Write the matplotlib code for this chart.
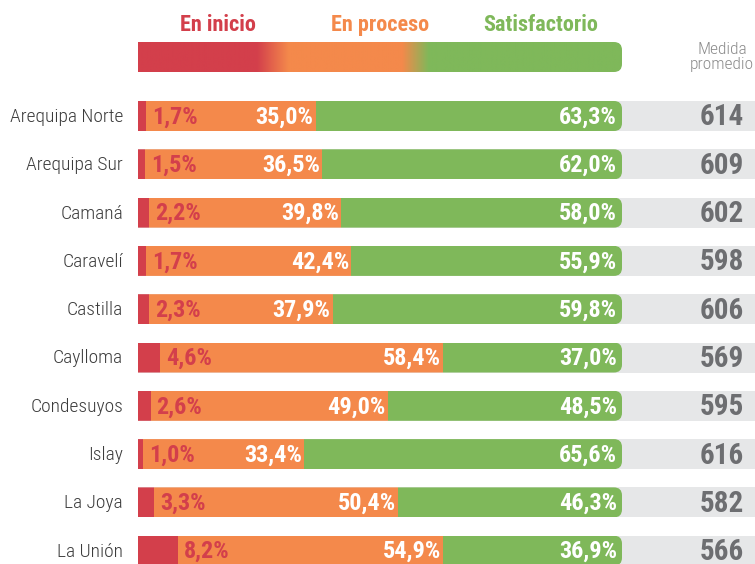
import matplotlib
matplotlib.use("Agg")
import matplotlib.pyplot as plt
import numpy as np
from matplotlib.patches import FancyBboxPatch
from matplotlib.colors import to_rgb

categories = ["Arequipa Norte", "Arequipa Sur", "Camaná", "Caravelí", "Castilla",
              "Caylloma", "Condesuyos", "Islay", "La Joya", "La Unión"]
inicio = [1.7, 1.5, 2.2, 1.7, 2.3, 4.6, 2.6, 1.0, 3.3, 8.2]
proceso = [35.0, 36.5, 39.8, 42.4, 37.9, 58.4, 49.0, 33.4, 50.4, 54.9]
satisf = [63.3, 62.0, 58.0, 55.9, 59.8, 37.0, 48.5, 65.6, 46.3, 36.9]
medida = [614, 609, 602, 598, 606, 569, 595, 616, 582, 566]
legend_labels = ["En inicio", "En proceso", "Satisfactorio"]

RED = "#D33F4B"
ORANGE = "#F4894B"
GREEN = "#7FB85A"
GRAY = "#E6E7E8"
FONT = ["Roboto Condensed", "Liberation Sans Narrow", "DejaVu Sans"]

W, H = 755, 564
fig = plt.figure(figsize=(W / 100, H / 100), dpi=100)

x0, x1 = 138, 622
row0, step = 116, 48.3
top_px = row0 - step / 2
ax = fig.add_axes([x0 / W, 0, (x1 - x0) / W, 1 - top_px / H])
ymax = (H - top_px) / step - 0.5
ax.set_xlim(0, 100)
ax.set_ylim(ymax, -0.5)
ax.axis("off")

bh = 30 / step
y = np.arange(len(categories))
inicio_a = np.array(inicio)
proceso_a = np.array(proceso)
satisf_a = np.array(satisf)

px_per_x = (x1 - x0) / 100
aspect = (1 / step) / (1 / px_per_x)
rad = 8 / px_per_x

def fmt(v):
    return f"{v:.1f}%".replace(".", ",")

ax.barh(y, 130, height=bh, color=GRAY, clip_on=False, zorder=1)
for i in range(len(categories)):
    clip = FancyBboxPatch((-20, i - bh / 2), 120, bh,
                          boxstyle=f"round,pad=0,rounding_size={rad}",
                          mutation_aspect=aspect, transform=ax.transData,
                          facecolor="none", edgecolor="none")
    ax.add_patch(clip)
    b1 = ax.barh(i, inicio_a[i], height=bh, color=RED, zorder=2)
    b2 = ax.barh(i, proceso_a[i], left=inicio_a[i], height=bh, color=ORANGE, zorder=2)
    b3 = ax.barh(i, satisf_a[i], left=inicio_a[i] + proceso_a[i], height=bh, color=GREEN, zorder=2)
    for b in (b1, b2, b3):
        for p in b:
            p.set_clip_path(clip)
    ax.text(inicio_a[i] + 6 / px_per_x, i + 0.02, fmt(inicio_a[i]), color=RED, fontsize=17.5,
            fontweight="bold", family=FONT, ha="left", va="center", zorder=3)
    ax.text(inicio_a[i] + proceso_a[i] - 2 / px_per_x, i + 0.02, fmt(proceso_a[i]), color="white",
            fontsize=17.5, fontweight="bold", family=FONT, ha="right", va="center", zorder=3)
    ax.text(100 - 5 / px_per_x, i + 0.02, fmt(satisf_a[i]), color="white",
            fontsize=17.5, fontweight="bold", family=FONT, ha="right", va="center", zorder=3)
    ax.text(-15 / px_per_x, i + 0.02, categories[i], color="#3C3C3C", fontsize=14,
            family=FONT, fontweight="light", ha="right", va="center", zorder=3, clip_on=False)
    ax.text((744 - x0) / px_per_x, i + 0.03, str(medida[i]), color="#6D6E71", fontsize=21,
            fontweight="bold", family=FONT, ha="right", va="center", zorder=3, clip_on=False)

# legend gradient bar
lax = fig.add_axes([x0 / W, 1 - 72 / H, (x1 - x0) / W, 30 / H])
lax.set_xlim(0, 1)
lax.set_ylim(0, 1)
lax.axis("off")
stops = [(0.0, RED), (0.245, RED), (0.31, ORANGE), (0.545, ORANGE), (0.60, GREEN), (1.0, GREEN)]
xs = np.linspace(0, 1, 600)
cols = np.zeros((1, len(xs), 3))
sp = [s[0] for s in stops]
for c in range(3):
    cols[0, :, c] = np.interp(xs, sp, [to_rgb(s[1])[c] for s in stops])
im = lax.imshow(cols, extent=(0, 1, 0, 1), aspect="auto")
lclip = FancyBboxPatch((-0.2, 0), 1.2, 1,
                       boxstyle=f"round,pad=0,rounding_size={8 / (x1 - x0)}",
                       mutation_aspect=(x1 - x0) / 30, transform=lax.transData,
                       facecolor="none", edgecolor="none")
lax.add_patch(lclip)
im.set_clip_path(lclip)

for lab, cx, col in zip(legend_labels, [218, 380, 541], [RED, ORANGE, GREEN]):
    fig.text(cx / W, 1 - 25 / H, lab, color=col, fontsize=16, fontweight="bold",
             family=FONT, ha="center", va="center")

fig.text(722 / W, 1 - 49 / H, "Medida", color="#8C8C8C", fontsize=12.5, family=FONT,
         fontweight="light", ha="center", va="center")
fig.text(722 / W, 1 - 65 / H, "promedio", color="#8C8C8C", fontsize=12.5, family=FONT,
         fontweight="light", ha="center", va="center")

fig.savefig("out.png", dpi=100, facecolor="white")
